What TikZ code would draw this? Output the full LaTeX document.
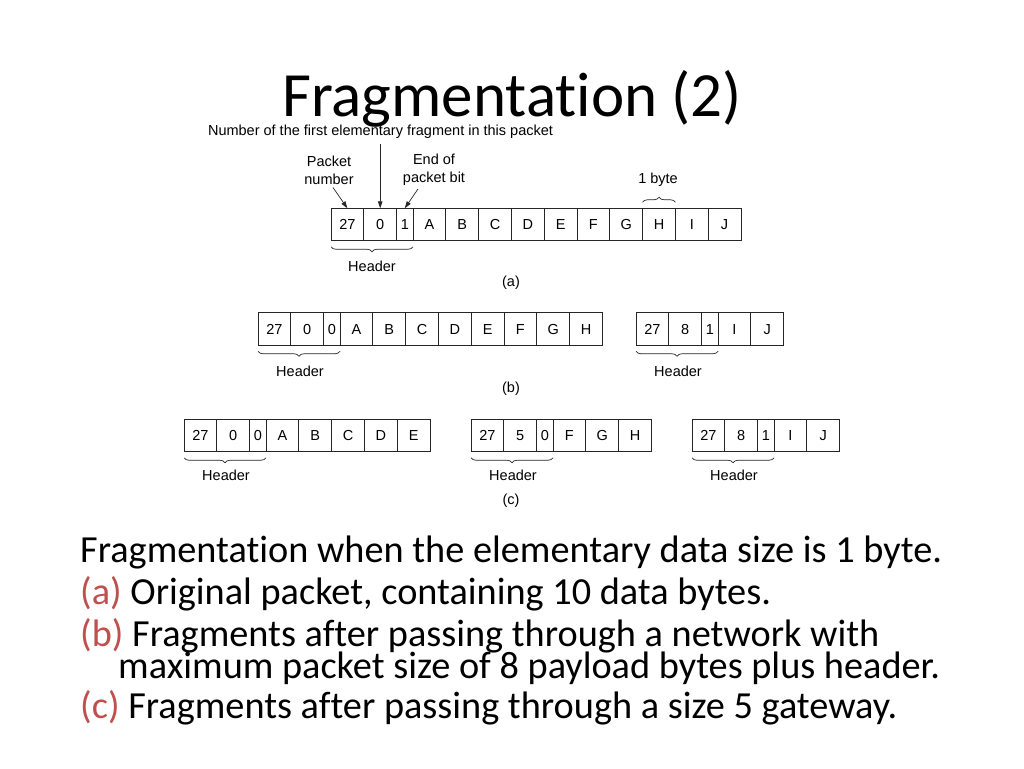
\documentclass[tikz,border=0pt]{standalone}
\usepackage{fontspec}
\setmainfont{Carlito}[Ligatures=NoCommon]
\newfontfamily\diag{Liberation Sans}
\usetikzlibrary{decorations.pathreplacing,arrows.meta}
\definecolor{accred}{HTML}{C0504D}
\definecolor{lnc}{HTML}{262626}
\tikzset{
 cell/.style={draw=lnc, line width=0.7pt, minimum height=32.5pt, inner sep=0pt, outer sep=0pt, text height=10.5pt, text depth=0pt, font=\diag\fontsize{14.5}{16}\selectfont},
 lbl/.style={font=\diag\fontsize{14.5}{18}\selectfont, inner sep=0pt, align=center},
 brc/.style={decorate, decoration={brace, amplitude=5pt}, line width=0.7pt, draw=lnc},
 brcm/.style={decorate, decoration={brace, amplitude=5pt, mirror}, line width=0.7pt, draw=lnc},
 arr/.style={-{Triangle[length=7pt,width=4.5pt]}, line width=0.7pt, draw=lnc},
 body/.style={font=\fontsize{38.3}{44}\selectfont, anchor=base west, inner sep=0pt},
}
\newcommand\pktrow[4]{%
 \node[inner sep=0pt, outer sep=0pt, minimum size=0pt] (#1-0) at (#2,#3) {};
 \foreach \t/\w [count=\i] in {#4} {
   \pgfmathtruncatemacro\j{\i-1}
   \node[cell, minimum width=\w*32.8pt, anchor=west] (#1-\i) at (#1-\j.east) {\t};
 }}
\begin{document}
\begin{tikzpicture}[x=1pt,y=-1pt]
\useasboundingbox (0,0) rectangle (1024,768);
\fill[white] (0,0) rectangle (1024,768);

\node[font=\fontsize{63}{70}\selectfont, anchor=base, inner sep=0pt] (title) at (512,116) {Fragmentation (2)};

% (a)
\pktrow{a}{331}{224.5}{27/1,0/1,1/0.5,A/1,B/1,C/1,D/1,E/1,F/1,G/1,H/1,I/1,J/1}
\node[lbl] (num) at (380.5,132) {Number of the first elementary fragment in this packet};
\node[lbl] (pn) at (329,170) {Packet\\number};
\node[lbl] (eop) at (434,170) {End of\\packet bit};
\draw[arr] ([yshift=-5pt]num.south -| a-2.north) -- (a-2.north);
\draw[arr] ([xshift=4pt,yshift=-3pt]pn.south) -- (a-1.north);
\draw[arr] ([xshift=-16pt,yshift=-3pt]eop.south) -- (a-3.north);
\node[lbl] (onebyte) at (658,180) {1 byte};
\draw[brc] ([yshift=6pt]a-11.north west) -- ([yshift=6pt]a-11.north east);
\draw[brcm] ([yshift=-6pt]a-1.south west) -- ([yshift=-6pt]a-3.south east);
\node[lbl] (ha) at (372,266) {Header};
\node[lbl] (capa) at (511,283) {(a)};

% (b)
\pktrow{b}{258}{329}{27/1,0/1,0/0.5,A/1,B/1,C/1,D/1,E/1,F/1,G/1,H/1}
\pktrow{bb}{636}{329}{27/1,8/1,1/0.5,I/1,J/1}
\draw[brcm] ([yshift=-6pt]b-1.south west) -- ([yshift=-6pt]b-3.south east);
\draw[brcm] ([yshift=-6pt]bb-1.south west) -- ([yshift=-6pt]bb-3.south east);
\node[lbl] (hb) at (300,371) {Header};
\node[lbl] (hbb) at (678,371) {Header};
\node[lbl] (capb) at (511,389) {(b)};

% (c)
\pktrow{c}{184}{435.5}{27/1,0/1,0/0.5,A/1,B/1,C/1,D/1,E/1}
\pktrow{cc}{471}{435.5}{27/1,5/1,0/0.5,F/1,G/1,H/1}
\pktrow{ccc}{692}{435.5}{27/1,8/1,1/0.5,I/1,J/1}
\draw[brcm] ([yshift=-6pt]c-1.south west) -- ([yshift=-6pt]c-3.south east);
\draw[brcm] ([yshift=-6pt]cc-1.south west) -- ([yshift=-6pt]cc-3.south east);
\draw[brcm] ([yshift=-6pt]ccc-1.south west) -- ([yshift=-6pt]ccc-3.south east);
\node[lbl] (hc) at (226,475) {Header};
\node[lbl] (hcc) at (513,475) {Header};
\node[lbl] (hccc) at (734,475) {Header};
\node[lbl] (capc) at (511,501) {(c)};

% body text
\node[body] (l1) at (80,562) {Fragmentation when the elementary data size is 1 byte.};
\node[body] (l2) at (80,604) {\textcolor{accred}{(a)} Original packet, containing 10 data bytes.};
\node[body] (l3) at (80,646) {\textcolor{accred}{(b)} Fragments after passing through a network with};
\node[body] (l4) at (118,678) {maximum packet size of 8 payload bytes plus header.};
\node[body] (l5) at (80,718) {\textcolor{accred}{(c)} Fragments after passing through a size 5 gateway.};
\end{tikzpicture}
\end{document}
